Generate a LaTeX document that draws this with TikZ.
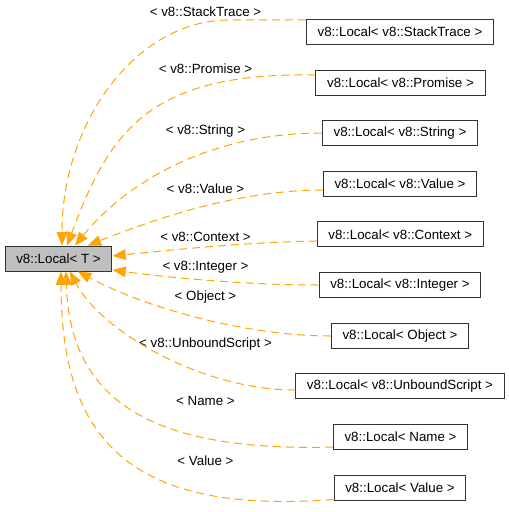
\documentclass[tikz,border=0pt]{standalone}
\usepackage{fontspec}
\setmainfont{Liberation Sans}
\usepackage{xcolor}
\usepackage{tikz}
\usetikzlibrary{arrows.meta}

\definecolor{edgeorange}{HTML}{FFA500}

\begin{document}
\begin{tikzpicture}[
        x=0.75pt, y=-0.75pt,
        base/.style={draw=black!80, line width=0.75pt, minimum height=18.75pt, inner xsep=8.4pt, inner ysep=0pt, font=\fontsize{10}{12}\selectfont},
        tmpl/.style={base, fill=black!25},
        inst/.style={base, fill=white},
        lbl/.style={inner sep=0pt, font=\fontsize{10}{12}\selectfont},
        arrow/.style={-{Triangle[length=10pt, width=8pt]}, draw=edgeorange, line width=0.75pt, dash pattern=on 6pt off 3.75pt}
    ]
    \useasboundingbox (0,0) rectangle (509,512);

    \node (local) at (58.5, 258.5) [tmpl] {v8::Local< T >};

    \node (stacktrace) at (400, 31.5) [inst] {v8::Local< v8::StackTrace >};
    \node (promise) at (400.5, 83) [inst] {v8::Local< v8::Promise >};
    \node (string) at (400, 133) [inst] {v8::Local< v8::String >};
    \node (value) at (400, 184) [inst] {v8::Local< v8::Value >};
    \node (context) at (400.3, 234.3) [inst] {v8::Local< v8::Context >};
    \node (integer) at (400, 285) [inst] {v8::Local< v8::Integer >};
    \node (object) at (400, 336) [inst] {v8::Local< Object >};
    \node (unbound) at (400, 386) [inst] {v8::Local< v8::UnboundScript >};
    \node (name) at (400.5, 437) [inst] {v8::Local< Name >};
    \node (valueB) at (400, 487.5) [inst] {v8::Local< Value >};

    \node (labStackTrace) at (205.5, 12) [lbl] {< v8::StackTrace >};
    \node (labPromise) at (205.5, 69) [lbl] {< v8::Promise >};
    \node (labString) at (205.5, 131) [lbl] {< v8::String >};
    \node (labValue) at (205.5, 189) [lbl] {< v8::Value >};
    \node (labContext) at (205.5, 237) [lbl] {< v8::Context >};
    \node (labInteger) at (205.5, 267) [lbl] {< v8::Integer >};
    \node (labObject) at (205.5, 297) [lbl] {< Object >};
    \node (labUnbound) at (205.5, 344) [lbl] {< v8::UnboundScript >};
    \node (labName) at (205.5, 401) [lbl] {< Name >};
    \node (labValueB) at (205.5, 461) [lbl] {< Value >};

    \draw [arrow] ([yshift=-1pt]stacktrace.north west) -- (229, 20) .. controls (137, 20) and (62, 121) .. ([xshift=2.6pt]local.north);
    \draw [arrow] ([yshift=6pt]promise.west) .. controls (150, 72) and (110, 130) .. ([xshift=6.4pt]local.north);
    \draw [arrow] (string.west) .. controls (200, 133) and (120, 190) .. ([xshift=12.4pt]local.north);
    \draw [arrow] ([yshift=-4.5pt]value.west) .. controls (230, 190) and (140, 225) .. ([xshift=22pt]local.north);
    \draw [arrow] ([yshift=-5pt]context.west) .. controls (250, 242) and (170, 250) .. ([yshift=1.9pt]local.east);
    \draw [arrow] (integer.west) .. controls (250, 285) and (170, 278) .. ([yshift=-8.6pt]local.east);
    \draw [arrow] (object.west) .. controls (250, 336) and (150, 310) .. ([xshift=14.6pt]local.south);
    \draw [arrow] ([yshift=-3pt]unbound.west) .. controls (200, 390) and (100, 330) .. ([xshift=8.6pt]local.south);
    \draw [arrow] ([yshift=-7.5pt]name.west) .. controls (150, 452) and (70, 400) .. ([xshift=5.6pt]local.south);
    \draw [arrow] ([yshift=-9pt]valueB.west) .. controls (130, 515) and (61, 440) .. ([xshift=1.9pt]local.south);

\end{tikzpicture}
\end{document}
